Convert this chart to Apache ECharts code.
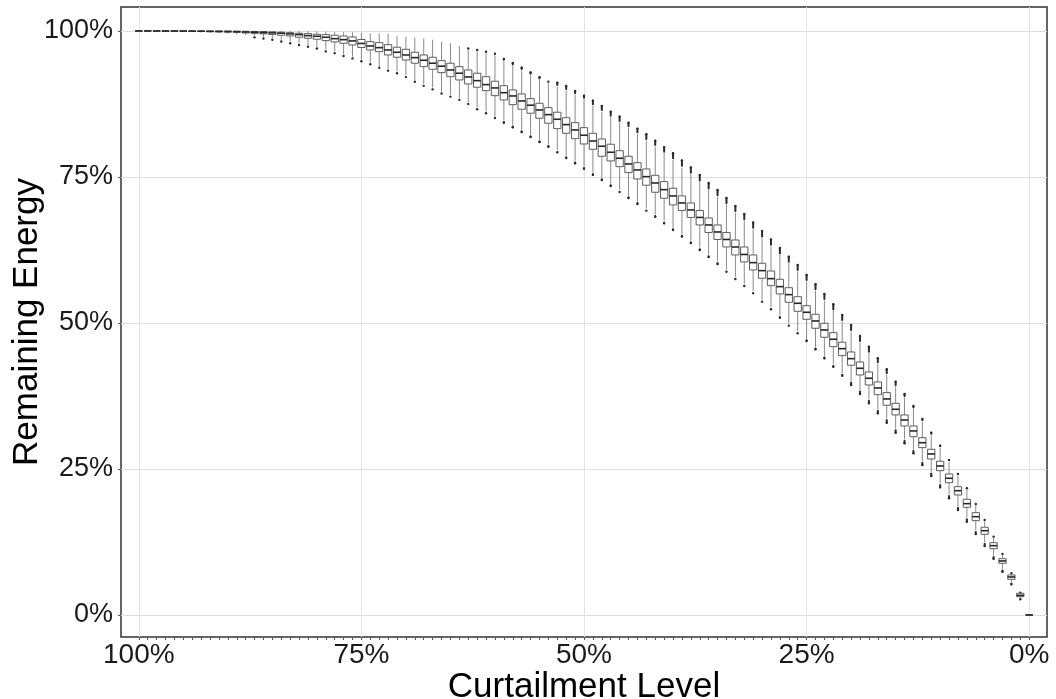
<!DOCTYPE html>
<html>
<head>
<meta charset="utf-8">
<script src="https://cdn.jsdelivr.net/npm/echarts@6/dist/echarts.min.js"></script>
<style>
  html, body { margin: 0; padding: 0; background: #ffffff; }
  #chart { width: 1056px; height: 699px; }
</style>
</head>
<body>
<div id="chart"></div>
<script>
// Curtailment levels, from no curtailment (100%) to full curtailment (0%)
const levels = [
  100, 99, 98, 97, 96, 95, 94, 93, 92, 91,
  90, 89, 88, 87, 86, 85, 84, 83, 82, 81,
  80, 79, 78, 77, 76, 75, 74, 73, 72, 71,
  70, 69, 68, 67, 66, 65, 64, 63, 62, 61,
  60, 59, 58, 57, 56, 55, 54, 53, 52, 51,
  50, 49, 48, 47, 46, 45, 44, 43, 42, 41,
  40, 39, 38, 37, 36, 35, 34, 33, 32, 31,
  30, 29, 28, 27, 26, 25, 24, 23, 22, 21,
  20, 19, 18, 17, 16, 15, 14, 13, 12, 11,
  10, 9, 8, 7, 6, 5, 4, 3, 2, 1, 0
];

// Remaining energy (%) per level: whisker ends, quartiles and median
const whiskerLow = [
  100, 99.95, 99.95, 99.9, 99.9, 99.85, 99.8, 99.75, 99.7, 99.6,
  99.5, 99.4, 99.3, 99.2, 99.0, 98.8, 98.5, 98.2, 97.9, 97.6,
  97.3, 96.8, 96.5, 96.0, 95.6, 95.1, 94.6, 94.0, 93.5, 93.1,
  92.4, 91.6, 90.9, 90.3, 89.6, 89.1, 88.5, 87.8, 86.9, 86.2,
  85.4, 84.7, 83.9, 83.1, 82.25, 81.4, 80.6, 79.6, 78.65, 77.75,
  76.8, 75.8, 74.9, 73.85, 72.8, 71.8, 70.8, 69.6, 68.6, 67.45,
  66.3, 65.2, 64.1, 62.9, 61.7, 60.5, 59.15, 57.9, 56.7, 55.45,
  54.0, 52.7, 51.3, 49.9, 48.6, 47.3, 45.9, 44.35, 42.9, 41.4,
  40.1, 38.55, 36.95, 35.25, 33.65, 31.9, 30.1, 28.4, 26.35, 24.5,
  22.55, 20.65, 18.65, 16.65, 14.5, 12.45, 10.2, 7.9, 5.65, 2.9, 0
];
const lowerQuartile = [
  100, 100, 99.98, 99.97, 99.96, 99.95, 99.93, 99.9, 99.87, 99.84,
  99.8, 99.76, 99.65, 99.58, 99.5, 99.4, 99.26, 99.14, 98.92, 98.75,
  98.58, 98.34, 98.12, 97.89, 97.6, 97.17, 96.75, 96.46, 95.89, 95.5,
  95.03, 94.47, 93.89, 93.44, 92.86, 92.17, 91.61, 90.92, 90.36, 89.78,
  88.92, 88.18, 87.38, 86.59, 85.91, 85.05, 84.2, 83.27, 82.48, 81.56,
  80.65, 79.74, 78.54, 77.74, 76.76, 75.74, 74.66, 73.58, 72.38, 71.35,
  70.21, 69.26, 68.07, 66.78, 65.5, 64.3, 63.01, 61.64, 60.45, 59.08,
  57.65, 56.39, 54.97, 53.54, 52.0, 50.63, 49.09, 47.55, 45.94, 44.4,
  42.76, 41.1, 39.38, 37.72, 35.91, 34.25, 32.36, 30.53, 28.65, 26.71,
  24.71, 22.65, 20.55, 18.44, 16.15, 13.82, 11.35, 8.85, 6.11, 3.13, 0
];
const medianValue = [
  100, 100, 100, 99.99, 99.99, 99.98, 99.97, 99.96, 99.94, 99.92,
  99.9, 99.87, 99.82, 99.78, 99.73, 99.67, 99.61, 99.49, 99.37, 99.2,
  99.09, 98.92, 98.68, 98.51, 98.29, 97.86, 97.43, 97.14, 96.75, 96.35,
  95.89, 95.43, 94.98, 94.47, 93.96, 93.32, 92.76, 92.12, 91.49, 90.81,
  90.24, 89.43, 88.87, 88.01, 87.28, 86.47, 85.67, 84.88, 83.96, 83.05,
  82.14, 81.16, 80.26, 79.23, 78.2, 77.23, 76.2, 75.05, 73.97, 72.83,
  71.75, 70.55, 69.35, 68.07, 66.78, 65.58, 64.3, 63.01, 61.73, 60.33,
  58.96, 57.59, 56.22, 54.85, 53.37, 51.83, 50.34, 48.8, 47.21, 45.6,
  43.89, 42.24, 40.53, 38.87, 36.99, 35.22, 33.39, 31.51, 29.5, 27.57,
  25.51, 23.41, 21.28, 19.06, 16.83, 14.43, 11.87, 9.25, 6.51, 3.37, 0
];
const upperQuartile = [
  100, 100, 100, 100, 100, 100, 100, 99.99, 99.98, 99.98,
  99.97, 99.96, 99.94, 99.92, 99.9, 99.85, 99.78, 99.71, 99.61, 99.54,
  99.43, 99.37, 99.26, 99.14, 98.97, 98.54, 98.17, 98.0, 97.65, 97.21,
  96.86, 96.35, 95.89, 95.5, 94.92, 94.47, 93.89, 93.32, 92.76, 92.17,
  91.39, 90.63, 89.9, 89.21, 88.41, 87.62, 86.87, 86.08, 85.15, 84.3,
  83.44, 82.48, 81.51, 80.6, 79.5, 78.54, 77.45, 76.37, 75.29, 74.2,
  73.07, 71.75, 70.55, 69.26, 67.98, 66.78, 65.5, 64.21, 63.01, 61.64,
  60.22, 58.9, 57.48, 56.04, 54.5, 52.96, 51.49, 49.95, 48.34, 46.7,
  45.03, 43.32, 41.61, 39.9, 38.07, 36.25, 34.25, 32.36, 30.36, 28.37,
  26.32, 24.14, 21.97, 19.81, 17.52, 15.02, 12.38, 9.64, 6.85, 3.72, 0
];
const whiskerHigh = [
  100, 100, 100, 100, 100, 100, 100, 100, 100, 100,
  100, 100, 100, 100, 100, 100, 100, 100, 100, 100,
  99.95, 99.9, 99.85, 99.8, 99.75, 99.7, 99.6, 99.6, 99.5, 99.1,
  99.0, 98.85, 98.7, 98.5, 98.2, 97.9, 97.4, 96.7, 96.45, 96.15,
  95.8, 94.8, 94.0, 93.2, 92.4, 91.6, 91.04, 90.46, 89.78, 89.04,
  88.3, 87.16, 86.18, 85.22, 84.3, 83.39, 82.36, 81.22, 80.19, 79.06,
  77.91, 76.63, 75.43, 74.14, 72.77, 71.58, 70.21, 68.84, 67.47, 66.01,
  64.55, 63.1, 61.64, 60.22, 58.78, 57.07, 55.48, 53.82, 52.05, 50.22,
  48.51, 46.63, 44.81, 42.98, 41.1, 39.04, 37.16, 35.27, 33.05, 30.74,
  28.6, 26.2, 23.8, 21.4, 18.75, 16.01, 13.18, 10.19, 6.93, 3.77, 0
];

// Most extreme outlier beyond each whisker (null where there is none)
const outlierLow = [
  null, null, null, null, null, null, null, null, null, null,
  null, null, null, 98.9, 98.7, 98.5, 98.2, 97.9, 97.6, 97.3,
  97.0, 96.5, 96.2, 95.7, 95.3, 94.8, 94.3, 93.7, 93.2, 92.75,
  92.1, 91.3, 90.6, 90.0, 89.3, 88.75, 88.2, 87.5, 86.6, 85.9,
  85.1, 84.3, 83.51, 82.71, 81.85, 80.99, 80.19, 79.23, 78.25, 77.35,
  76.42, 75.39, 74.49, 73.46, 72.43, 71.4, 70.38, 69.23, 68.2, 67.07,
  65.92, 64.81, 63.7, 62.5, 61.3, 60.1, 58.78, 57.53, 56.34, 55.08,
  53.65, 52.35, 50.91, 49.54, 48.24, 46.92, 45.5, 43.96, 42.52, 40.98,
  39.38, 37.84, 36.25, 34.54, 32.93, 31.22, 29.4, 27.69, 25.68, 23.8,
  21.87, 19.98, 17.98, 15.98, 13.87, 11.82, 9.64, 7.41, 5.26, 2.69, null
];
const outlierHigh = [
  null, null, null, null, null, null, null, null, null, null,
  null, null, null, null, null, null, null, null, null, null,
  null, null, null, null, null, null, null, null, null, null,
  null, null, null, null, null, null, null, 97.0, 96.75, 96.45,
  96.1, 95.2, 94.5, 93.7, 92.9, 92.1, 91.32, 91.15, 90.58, 89.73,
  88.92, 88.07, 87.16, 86.18, 85.33, 84.3, 83.27, 82.31, 81.22, 80.08,
  79.06, 77.83, 76.63, 75.34, 73.97, 72.77, 71.4, 70.03, 68.66, 67.21,
  65.75, 64.3, 62.84, 61.35, 59.93, 58.22, 56.63, 54.97, 53.2, 51.37,
  49.66, 47.77, 45.94, 43.96, 42.07, 39.95, 37.84, 35.79, 33.56, 31.22,
  28.99, 26.54, 24.14, 21.7, 19.01, 16.27, 13.41, 10.45, 7.14, 3.82, null
];

// Axis labels
const labelledLevels = [100, 75, 50, 25, 0];
const energyTicks = [0, 25, 50, 75, 100];

// Two empty slots on each side of the level axis give the panel its margin
const leadingSlots = ['102', '101'];
const trailingSlots = ['-1', '-2'];
const axisCategories = leadingSlots.concat(levels.map(String), trailingSlots);
const isLevel = (value) => leadingSlots.indexOf(value) < 0 && trailingSlots.indexOf(value) < 0;
const isLabelled = (value) => isLevel(value) && labelledLevels.indexOf(Number(value)) >= 0;

const rows = levels.map((lv, i) => [
  i + leadingSlots.length,
  whiskerLow[i], lowerQuartile[i], medianValue[i], upperQuartile[i], whiskerHigh[i],
  outlierLow[i] == null ? NaN : outlierLow[i],
  outlierHigh[i] == null ? NaN : outlierHigh[i]
]);

const FONT = '"Liberation Sans", Arial, Helvetica, sans-serif';

function outlierRun(cx, fromY, toY, dir) {
  // dir: +1 runs downward (below the low whisker), -1 upward
  const start = fromY + dir * 1.6;
  const parts = [];
  if ((toY - start) * dir > 0.6) {
    parts.push({
      type: 'line',
      shape: { x1: cx, y1: start, x2: cx, y2: toY },
      style: { stroke: '#2b2b2b', lineWidth: 2, lineCap: 'round' }
    });
  }
  parts.push({
    type: 'circle',
    shape: { cx: cx, cy: toY, r: 1.2 },
    style: { fill: '#2b2b2b' }
  });
  return parts;
}

function renderBox(params, api) {
  const idx = api.value(0);
  const band = api.size([1, 0])[0];
  const half = band * 0.41;
  const cx = api.coord([idx, 0])[0];
  const py = (v) => api.coord([idx, v])[1];
  const yLo = py(api.value(1));
  const yQ1 = py(api.value(2));
  const yMed = py(api.value(3));
  const yQ3 = py(api.value(4));
  const yHi = py(api.value(5));
  const oLo = api.value(6);
  const oHi = api.value(7);

  let children = [
    {
      type: 'line',
      shape: { x1: cx, y1: yHi, x2: cx, y2: yQ3 },
      style: { stroke: '#8a8a8a', lineWidth: 1 }
    },
    {
      type: 'line',
      shape: { x1: cx, y1: yQ1, x2: cx, y2: yLo },
      style: { stroke: '#8a8a8a', lineWidth: 1 }
    }
  ];
  if (!isNaN(oLo)) children = children.concat(outlierRun(cx, yLo, py(oLo), 1));
  if (!isNaN(oHi)) children = children.concat(outlierRun(cx, yHi, py(oHi), -1));
  children.push({
    type: 'rect',
    shape: { x: cx - half, y: yQ3, width: half * 2, height: Math.max(yQ1 - yQ3, 0) },
    style: { fill: '#ffffff', stroke: '#5c5c5c', lineWidth: 1 }
  });
  children.push({
    type: 'line',
    shape: { x1: cx - half, y1: yMed, x2: cx + half, y2: yMed },
    style: { stroke: '#262626', lineWidth: 1.6 }
  });
  return { type: 'group', children: children };
}

const chart = echarts.init(document.getElementById('chart'), null, { renderer: 'canvas' });
chart.setOption({
  backgroundColor: '#ffffff',
  animation: false,
  grid: {
    left: 121, right: 9, top: 7, bottom: 62,
    outerBoundsMode: 'none',
    containLabel: false,
    show: true, borderColor: '#333333', borderWidth: 1.5, backgroundColor: '#ffffff'
  },
  xAxis: {
    type: 'category',
    data: axisCategories,
    boundaryGap: false,
    axisLine: { show: false, onZero: false },
    axisTick: {
      show: true, length: 3,
      interval: (i, v) => isLevel(v),
      lineStyle: { color: '#555555', width: 1 }
    },
    axisLabel: {
      interval: (i, v) => isLabelled(v),
      formatter: (v) => v + '%',
      fontFamily: FONT, fontSize: 28, color: '#1a1a1a', margin: 4
    },
    splitLine: {
      show: true,
      interval: (i, v) => isLabelled(v),
      lineStyle: { color: '#e3e3e3', width: 1 }
    },
    name: 'Curtailment Level',
    nameLocation: 'middle',
    nameGap: 33,
    nameMoveOverlap: false,
    nameTextStyle: { fontFamily: FONT, fontSize: 35, color: '#000000' }
  },
  yAxis: {
    type: 'value',
    min: -3.77,
    max: 104.1,
    axisLine: { show: false },
    axisTick: {
      show: true, length: 3, customValues: energyTicks,
      lineStyle: { color: '#555555', width: 1 }
    },
    axisLabel: {
      customValues: energyTicks,
      formatter: (v) => v + '%',
      fontFamily: FONT, fontSize: 27, color: '#1a1a1a', margin: 8
    },
    splitLine: { show: true, lineStyle: { color: '#dedede', width: 1 } },
    name: 'Remaining Energy',
    nameLocation: 'middle',
    nameGap: 76,
    nameMoveOverlap: false,
    nameTextStyle: { fontFamily: FONT, fontSize: 35, color: '#000000' }
  },
  series: [{
    type: 'custom',
    renderItem: renderBox,
    encode: { x: 0, y: [1, 2, 3, 4, 5] },
    data: rows,
    clip: false,
    z: 3
  }]
});
</script>
</body>
</html>
